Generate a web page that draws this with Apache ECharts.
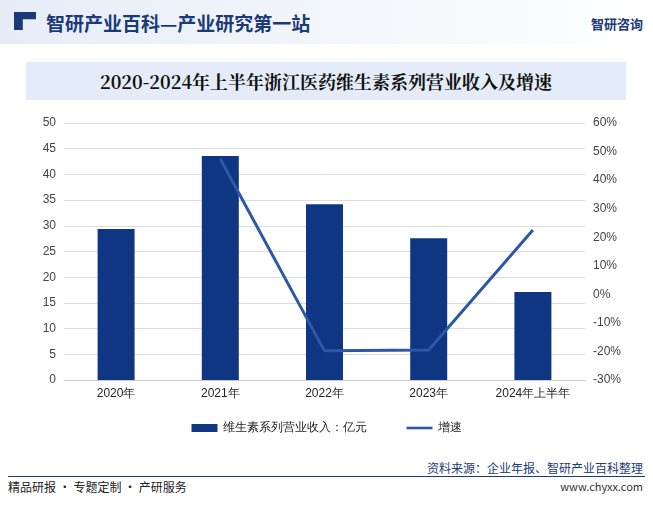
<!DOCTYPE html>
<html><head><meta charset="utf-8">
<script src="https://cdn.jsdelivr.net/npm/echarts@6/dist/echarts.min.js"></script>
<style>
body{margin:0;background:#fff;font-family:"Noto Sans CJK SC",sans-serif;}
#wrap{position:relative;width:653px;height:509px;overflow:hidden;}
#top{position:absolute;left:0;top:0;width:653px;height:44px;background:linear-gradient(90deg,#e6edf7,#fff);}
#top .t{position:absolute;left:46px;top:9px;font-size:19px;font-weight:bold;color:#1b3a78;}
#top .ic{position:absolute;left:14px;top:12px;width:22px;height:18px;background:#1b3a78;clip-path:polygon(0 0,100% 0,100% 40%,40% 40%,40% 100%,0 100%);}
#top .r{position:absolute;right:10px;top:14px;font-size:13px;font-weight:bold;color:#1b3a78;}
#tt{position:absolute;left:26px;top:62px;width:600px;height:38px;background:#e3ecf8;text-align:center;line-height:38px;font-size:18px;font-weight:bold;color:#111;font-family:"Noto Serif CJK SC","Noto Sans CJK SC",serif;}
#chart{position:absolute;left:0;top:100px;width:653px;height:345px;}
#line{position:absolute;left:8px;right:8px;top:476px;border-top:1px solid #1b3a78;}
#fl{position:absolute;left:8px;top:478px;font-size:12px;color:#222;}
#fr{position:absolute;right:10px;top:461px;font-size:12px;color:#1b3a78;text-align:right;line-height:14px;}
</style></head><body>
<div id="wrap">
<div id="top"><div class="ic"></div><div class="t">智研产业百科—产业研究第一站</div><div class="r">智研咨询</div></div>
<div id="tt">2020-2024年上半年浙江医药维生素系列营业收入及增速</div>
<div id="chart"></div>
<div id="line"></div>
<div id="fl">精品研报 · 专题定制 · 产研服务</div>
<div id="fr">资料来源：企业年报、智研产业百科整理<br><span style="color:#333;font-size:11px;line-height:22px">www.chyxx.com</span></div>
</div>
<script>
const categories = ['2020年','2021年','2022年','2023年','2024年上半年'];
const revenue = [29.4, 43.6, 34.2, 27.6, 17.1];
const growth = [null, 47.4, -19.8, -19.5, 22.5];

const chart = echarts.init(document.getElementById('chart'));
chart.setOption({
  animation:false,
  grid:{left:64,right:68,top:23,bottom:65},
  legend:{bottom:6,itemGap:40,textStyle:{fontSize:12,color:'#222'},
    data:[{name:'维生素系列营业收入：亿元',icon:'rect'},{name:'增速',icon:'path://M0,0H30V3H0Z'}],itemWidth:26,itemHeight:8},
  xAxis:{type:'category',data:categories,axisTick:{show:false},
    axisLine:{lineStyle:{color:'#ccc'}},axisLabel:{color:'#222',fontSize:12}},
  yAxis:[
    {type:'value',min:0,max:50,interval:5,axisLabel:{color:'#444',fontSize:12},
     splitLine:{lineStyle:{color:'#ddd'}}},
    {type:'value',min:-30,max:60,interval:10,axisLabel:{color:'#444',fontSize:12,formatter:'{value}%'},
     splitLine:{show:false}}
  ],
  series:[
    {name:'维生素系列营业收入：亿元',type:'bar',data:revenue,barWidth:37,itemStyle:{color:'#0f3682'}},
    {name:'增速',type:'line',yAxisIndex:1,data:growth,symbol:'none',lineStyle:{color:'#2d58a6',width:3},itemStyle:{color:'#2d58a6'}}
  ]
});
</script>
</body></html>
